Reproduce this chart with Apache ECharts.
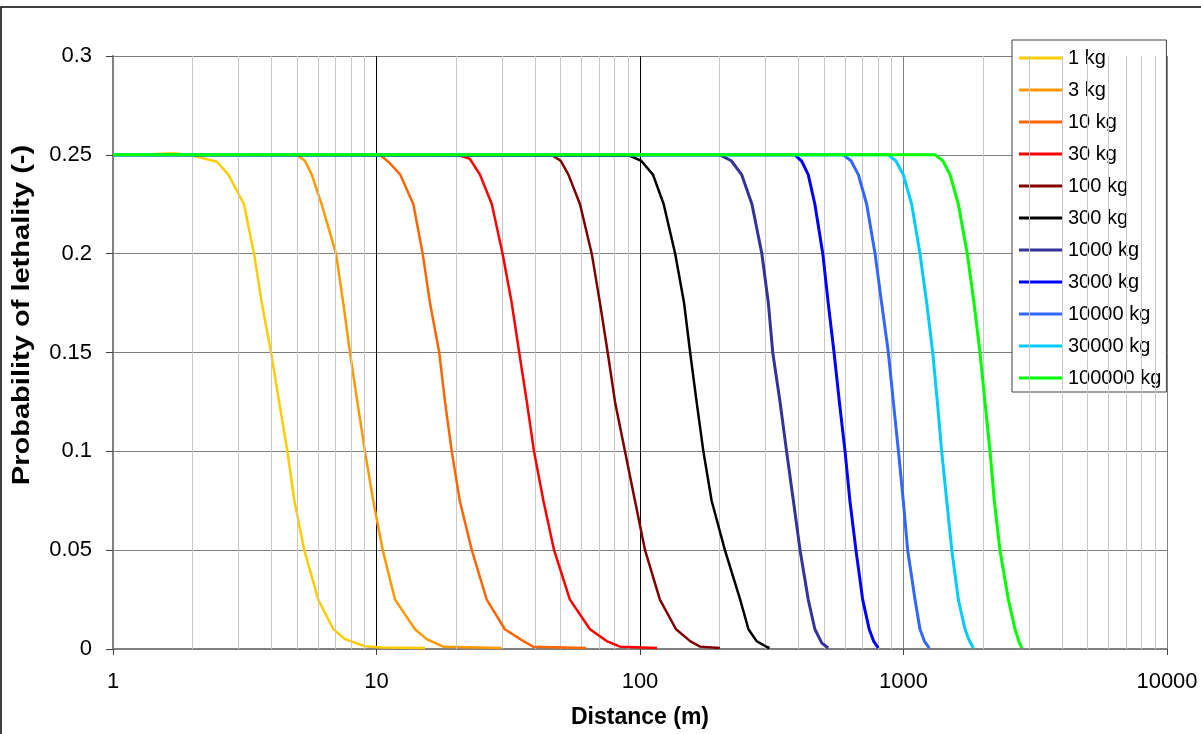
<!DOCTYPE html>
<html>
<head>
<meta charset="utf-8">
<script src="https://cdn.jsdelivr.net/npm/echarts@6/dist/echarts.min.js"></script>
<style>
html,body{margin:0;padding:0;background:#fff;}
#chart{width:1201px;height:734px;}
</style>
</head>
<body>
<div id="chart"></div>
<script>
// ---- data: [distance (m), probability] ----
const seriesNames = ['1 kg','3 kg','10 kg','30 kg','100 kg','300 kg','1000 kg','3000 kg','10000 kg','30000 kg','100000 kg'];
const d1 = [[1,0.25],[1.3,0.2502],[1.7,0.2508],[2.0,0.2497],[2.48,0.2465],[2.74,0.24],[3.14,0.225],[3.43,0.2],[3.67,0.175],[3.98,0.15],[4.27,0.125],[4.59,0.1],[4.88,0.075],[5.32,0.05],[6.01,0.025],[6.86,0.01],[7.59,0.005],[9.04,0.0014],[10.5,0.0008],[15.3,0.0005]];
const d3 = [[1,0.25],[4.98,0.25],[5.35,0.247],[5.68,0.24],[6.19,0.225],[7.02,0.2],[7.48,0.175],[7.93,0.15],[8.46,0.125],[9.04,0.1],[9.72,0.075],[10.56,0.05],[11.76,0.025],[14.0,0.01],[15.5,0.005],[17.9,0.0012],[29.8,0.0005]];
const d10 = [[1,0.25],[10.3,0.25],[11.2,0.246],[12.3,0.24],[13.8,0.225],[14.97,0.2],[15.96,0.175],[17.3,0.15],[18.2,0.125],[19.3,0.1],[20.7,0.075],[23.0,0.05],[26.2,0.025],[30.7,0.01],[36.1,0.004],[39.3,0.0012],[62.3,0.0005]];
const d30 = [[1,0.25],[20.4,0.25],[22.6,0.248],[24.7,0.24],[27.4,0.225],[30.1,0.2],[32.6,0.175],[34.8,0.15],[37.2,0.125],[39.6,0.1],[43.0,0.075],[47.2,0.05],[54.2,0.025],[64.6,0.01],[74.7,0.004],[84,0.0012],[116,0.0005]];
const d100 = [[1,0.25],[46.2,0.25],[50,0.247],[53.5,0.24],[59.2,0.225],[65.6,0.2],[70.5,0.175],[75.4,0.15],[80.4,0.125],[87.7,0.1],[95.7,0.075],[104.5,0.05],[119,0.025],[137,0.01],[155,0.004],[169,0.0012],[201,0.0005]];
const d300 = [[1,0.25],[91.6,0.2495],[101,0.247],[112,0.24],[123,0.225],[136,0.2],[147,0.175],[155,0.15],[164,0.125],[174,0.1],[187,0.075],[210,0.05],[240,0.025],[258,0.01],[277,0.004],[303,0.001],[310,0.0005]];
const d1000 = [[1,0.25],[201,0.25],[222,0.247],[243,0.24],[266,0.225],[290,0.2],[307,0.175],[319,0.15],[340,0.125],[360,0.1],[382,0.075],[405,0.05],[435,0.025],[461,0.01],[490,0.003],[518,0.0005]];
const d3000 = [[1,0.25],[387,0.25],[410,0.247],[435,0.24],[461,0.225],[494,0.2],[518,0.175],[545,0.15],[571,0.125],[600,0.1],[626,0.075],[660,0.05],[700,0.025],[741,0.01],[770,0.004],[802,0.0005]];
const d10000 = [[1,0.25],[591,0.25],[632,0.247],[674,0.24],[725,0.225],[780,0.2],[826,0.175],[876,0.15],[915,0.125],[957,0.1],[998,0.075],[1037,0.05],[1106,0.025],[1155,0.01],[1200,0.004],[1253,0.0005]];
const d30000 = [[1,0.25],[876,0.25],[935,0.247],[998,0.24],[1074,0.225],[1155,0.2],[1225,0.175],[1291,0.15],[1344,0.125],[1396,0.1],[1459,0.075],[1525,0.05],[1615,0.025],[1712,0.01],[1780,0.004],[1841,0.0005]];
const d100000 = [[1,0.25],[1318,0.25],[1410,0.247],[1502,0.24],[1615,0.225],[1746,0.2],[1852,0.175],[1951,0.15],[2038,0.125],[2130,0.1],[2211,0.075],[2323,0.05],[2500,0.025],[2650,0.01],[2740,0.004],[2810,0.0005]];
const minorGridX = [2,3,4,5,6,7,8,9,20,30,40,50,60,70,80,90,200,300,400,500,600,700,800,900,2000,3000,4000,5000,6000,7000,8000,9000];
const yTickLabels = ['0','0.05','0.1','0.15','0.2','0.25','0.3'];
// ---------------------------------------------------------------------------

const allData = [d1,d3,d10,d30,d100,d300,d1000,d3000,d10000,d30000,d100000];
const colors = ['#FFCC00','#FF9900','#FF6600','#FF0000','#800000','#000000','#333399','#0000FF','#3366FF','#00CCFF','#00FF00'];
const widths = [2.5,2.5,2.5,2.5,2.5,2.5,3,3,3,3,3];
const FONT = '"Liberation Sans", Arial, sans-serif';

const series = [{
  name: '_grid', type: 'line', data: [], silent: true, z: 1,
  markLine: {
    silent: true, symbol: 'none', animation: false,
    label: {show: false},
    lineStyle: {color: '#C8C8C8', width: 1, type: 'solid'},
    data: minorGridX.map(v => ({xAxis: v}))
  }
}];
allData.forEach((d, i) => {
  series.push({
    name: seriesNames[i], type: 'line', data: d,
    symbol: 'none', smooth: false,
    lineStyle: {color: colors[i], width: widths[i], join: 'round'},
    itemStyle: {color: colors[i]},
    z: 3 + i
  });
});

const chart = echarts.init(document.getElementById('chart'), null, {renderer: 'canvas'});
chart.setOption({
  animation: false,
  backgroundColor: '#fff',
  textStyle: {fontFamily: FONT},
  grid: {left: 113, right: 34, top: 56, bottom: 84, containLabel: false},
  xAxis: {
    type: 'log', logBase: 10, min: 1, max: 10000,
    name: 'Distance (m)', nameLocation: 'middle', nameGap: 57,
    nameTextStyle: {fontFamily: FONT, fontSize: 23, fontWeight: 'bold', color: '#000'},
    axisLine: {show: true, onZero: false, lineStyle: {color: '#808080', width: 2}},
    axisTick: {show: true, length: 6, lineStyle: {color: '#404040'}},
    axisLabel: {fontFamily: FONT, fontSize: 22, color: '#000', margin: 22,
      formatter: (v) => String(Math.round(v))},
    splitLine: {show: true, lineStyle: {color: ['#808080','#000000','#000000','#808080','#808080'], width: 1}},
    minorTick: {show: false}
  },
  yAxis: {
    type: 'value', min: 0, max: 0.3, interval: 0.05,
    axisLine: {show: true, lineStyle: {color: '#808080', width: 2}},
    axisTick: {show: true, length: 7, lineStyle: {color: '#404040'}},
    axisLabel: {fontFamily: FONT, fontSize: 22, color: '#000', margin: 21,
      formatter: (v) => yTickLabels[Math.round(v / 0.05)]},
    splitLine: {show: true, lineStyle: {color: '#808080', width: 1}}
  },
  legend: {
    orient: 'vertical', left: 1012, top: 40,
    data: seriesNames,
    icon: 'rect', itemWidth: 44, itemHeight: 3, itemGap: 12,
    padding: [8, 5, 4, 7],
    backgroundColor: '#fff', borderColor: '#404040', borderWidth: 1, borderRadius: 0,
    textStyle: {fontFamily: FONT, fontSize: 20, color: '#000', lineHeight: 20},
    selectedMode: false
  },
  graphic: [
    {type: 'rect', silent: true, z: 100,
     shape: {x: 1, y: 7, width: 1400, height: 900},
     style: {fill: 'none', stroke: '#000', lineWidth: 1.5}},
    {type: 'text', silent: true, z: 100,
     x: 22, y: 315, rotation: Math.PI / 2, scaleX: 1.21,
     style: {text: 'Probability of lethality (-)', font: 'bold 24px "Liberation Sans", Arial, sans-serif',
       fill: '#000', align: 'center', verticalAlign: 'middle'}}
  ],
  series: series
});
</script>
</body>
</html>
